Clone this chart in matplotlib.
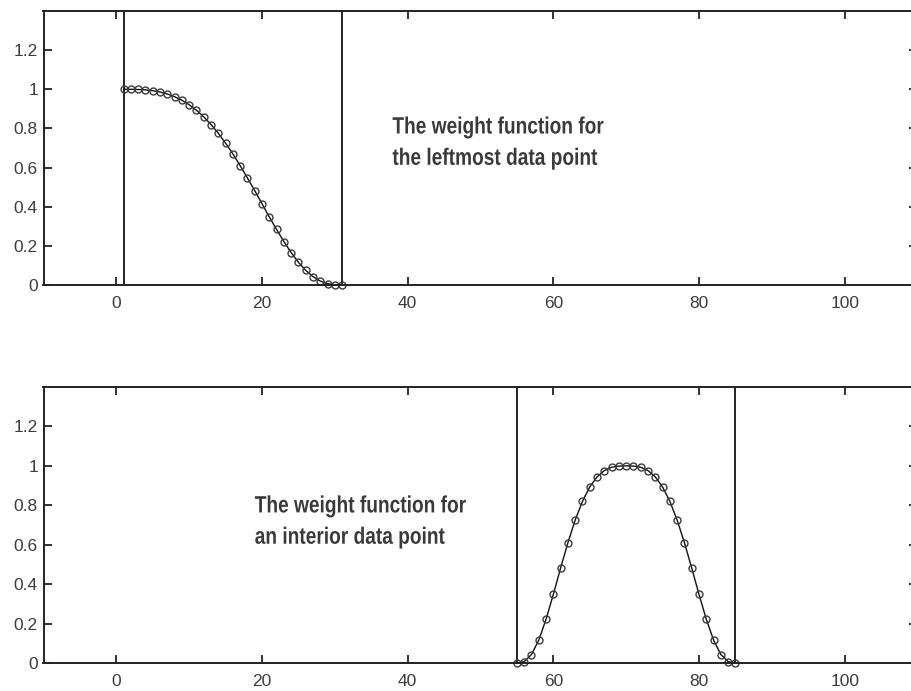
import matplotlib
matplotlib.use("Agg")
import matplotlib.pyplot as plt
from matplotlib.patheffects import AbstractPathEffect
from matplotlib.transforms import Affine2D

# ---- data ----
x_left = list(range(1, 32))
w_left = [1.000, 1.000, 0.999, 0.997, 0.993, 0.986, 0.976, 0.962, 0.944, 0.921,
          0.893, 0.859, 0.820, 0.775, 0.725, 0.670, 0.610, 0.547, 0.482, 0.415,
          0.348, 0.284, 0.222, 0.166, 0.116, 0.075, 0.043, 0.020, 0.007, 0.001,
          0.000]
x_mid = list(range(55, 86))
w_mid = [0.000, 0.007, 0.043, 0.116, 0.222, 0.348, 0.482, 0.610, 0.725, 0.820,
         0.893, 0.944, 0.976, 0.993, 0.999, 1.000, 0.999, 0.993, 0.976, 0.944,
         0.893, 0.820, 0.725, 0.610, 0.482, 0.348, 0.222, 0.116, 0.043, 0.007,
         0.000]
span_left = [1, 31]
span_mid = [55, 85]
xticks = [0, 20, 40, 60, 80, 100]
yticks = [0, 0.2, 0.4, 0.6, 0.8, 1.0, 1.2]
ytick_labels = ["0", "0.2", "0.4", "0.6", "0.8", "1", "1.2"]
text_left = "The weight function for\nthe leftmost data point"
text_mid = "The weight function for\nan interior data point"

W, H = 912, 691
fig = plt.figure(figsize=(W / 100, H / 100), dpi=100)
fig.patch.set_facecolor("white")

tick_font = ["Liberation Sans", "DejaVu Sans"]
note_font = ["Liberation Sans", "DejaVu Sans"]


class HorizontalSqueeze(AbstractPathEffect):
    """Draw text glyphs narrower (condensed look) around an anchor x (pixels)."""
    def __init__(self, sx, x0):
        super().__init__()
        self.sx = sx
        self.x0 = x0

    def draw_path(self, renderer, gc, tpath, affine, rgbFace=None):
        a = affine + Affine2D().translate(-self.x0, 0).scale(self.sx, 1).translate(self.x0, 0)
        renderer.draw_path(gc, tpath, a, rgbFace)


def make_axes(top_px, bottom_px):
    left_px, right_px = 43.5, 917.5
    ax = fig.add_axes([left_px / W, 1 - bottom_px / H,
                       (right_px - left_px) / W, (bottom_px - top_px) / H])
    ax.set_xlim(-10, 110)
    ax.set_ylim(0, 1.4)
    ax.set_xticks(xticks)
    ax.set_xticklabels([str(t) for t in xticks], family=tick_font, fontsize=12.5,
                       color="#3c3c3c")
    ax.set_yticks(yticks)
    ax.set_yticklabels(ytick_labels, family=tick_font, fontsize=12.5, color="#3c3c3c")
    ax.tick_params(direction="in", length=6, width=1.3, top=True, right=True,
                   color="#222222")
    ax.tick_params(axis="x", pad=8)
    ax.tick_params(axis="y", pad=4)
    for s in ax.spines.values():
        s.set_linewidth(1.4)
        s.set_color("#222222")
    return ax

ax1 = make_axes(11, 285)
ax2 = make_axes(387, 663)

for ax, xs, ws, span in [(ax1, x_left, w_left, span_left), (ax2, x_mid, w_mid, span_mid)]:
    for v in span:
        ax.axvline(v, color="#111111", linewidth=1.3)
    ax.plot(xs, ws, color="#111111", linewidth=1.0, marker="o", markersize=5,
            markerfacecolor="none", markeredgecolor="#3a3a3a", markeredgewidth=1.0,
            clip_on=False)


def note(ax, x, y, s):
    x0 = ax.transData.transform((x, y))[0]
    ax.text(x, y, s, family=note_font, fontsize=17, fontweight="bold",
            color="#3a3a3a", va="top", ha="left", linespacing=1.46,
            path_effects=[HorizontalSqueeze(0.81, x0)])

note(ax1, 37.9, 0.866, text_left)
note(ax2, 19.0, 0.855, text_mid)

fig.savefig("out.png", dpi=100)
